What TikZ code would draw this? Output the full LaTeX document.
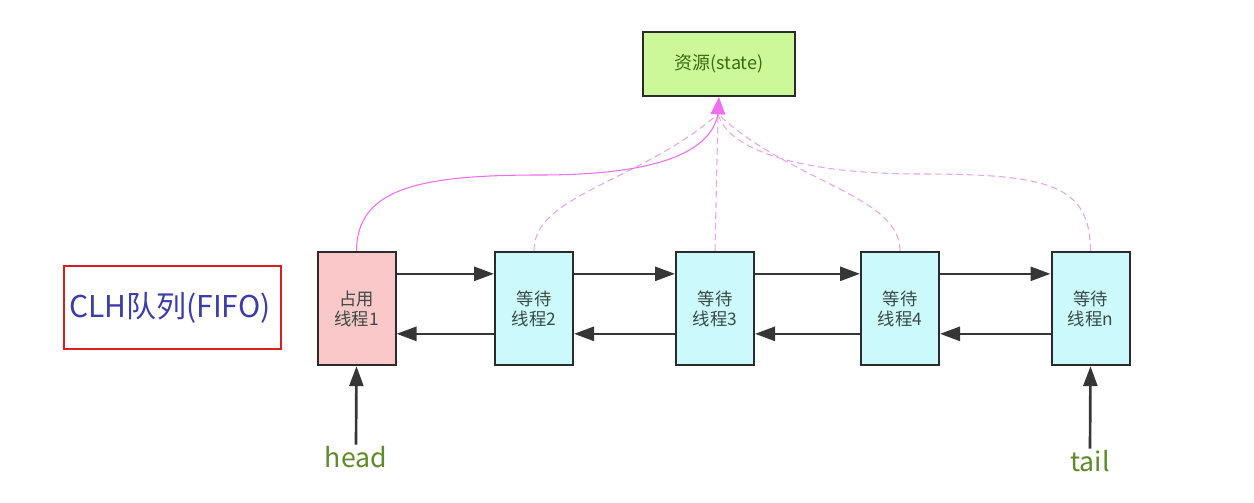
\documentclass[tikz,border=0pt]{standalone}
\usepackage{xcolor}
\usepackage{fontspec}
\setmainfont{Noto Sans CJK SC}
\usepackage{tikz}
\usetikzlibrary{shapes,arrows.meta}

\definecolor{boxedge}{HTML}{2B2B2B}
\definecolor{busyfill}{HTML}{FAC8C8}
\definecolor{waitfill}{HTML}{CCFAFC}
\definecolor{statefill}{HTML}{CCF899}
\definecolor{statetext}{HTML}{3A6B10}
\definecolor{threadtext}{HTML}{3A4A44}
\definecolor{linkpink}{HTML}{EE6EEE}
\definecolor{dashpink}{HTML}{E6A6E6}
\definecolor{ptrgreen}{HTML}{5E8A2A}
\definecolor{clhred}{HTML}{D81E1E}
\definecolor{clhblue}{HTML}{3C3CA8}

\tikzset{
  thread/.style={draw=boxedge,line width=1.5pt,minimum width=58.5pt,minimum height=85pt,
    align=center,text=threadtext,font=\fontsize{13}{15}\selectfont,inner sep=0pt},
  link/.style={draw=boxedge!95,line width=2pt,-{Triangle[length=15pt,width=10.5pt]}},
  grab/.style={linkpink,line width=0.8pt},
  waiting/.style={dashpink,line width=0.8pt,dash pattern=on 5pt off 3pt}
}

\begin{document}
\begin{tikzpicture}[x=0.75pt,y=0.75pt,yscale=-1,xscale=1]
    \useasboundingbox (0,0) rectangle (1254,503);

    \node [draw=boxedge,line width=1.5pt,fill=statefill,minimum width=114pt,minimum height=48pt,
      text=statetext,font=\fontsize{13.5}{15}\selectfont] (state) at (719,64) {资源(state)};
    \coordinate (tip) at (718,114);

    \node [draw=clhred,line width=1.5pt,minimum width=162.75pt,minimum height=62.25pt,
      text width=155pt,align=left,text=clhblue,font=\fontsize{22.5}{25}\selectfont,inner sep=0pt]
      (clh) at (172.5,307.5) {CLH队列(FIFO)};

    \node [thread,fill=busyfill] (t1) at (356.5,308.5) {占用\\线程1};
    \node [thread,fill=waitfill] (t2) at (534,308.5) {等待\\线程2};
    \node [thread,fill=waitfill] (t3) at (715,308.5) {等待\\线程3};
    \node [thread,fill=waitfill] (t4) at (900,308.5) {等待\\线程4};
    \node [thread,fill=waitfill] (tn) at (1090.5,308.5) {等待\\线程n};

    \draw [link] ([yshift=-26pt]t1.east) -- ([yshift=-26pt]t2.west);
    \draw [link] ([yshift=-26pt]t2.east) -- ([yshift=-26pt]t3.west);
    \draw [link] ([yshift=-26pt]t3.east) -- ([yshift=-26pt]t4.west);
    \draw [link] ([yshift=-26pt]t4.east) -- ([yshift=-26pt]tn.west);
    \draw [link] ([yshift=19pt]t2.west) -- ([yshift=19pt]t1.east);
    \draw [link] ([yshift=19pt]t3.west) -- ([yshift=19pt]t2.east);
    \draw [link] ([yshift=19pt]t4.west) -- ([yshift=19pt]t3.east);
    \draw [link] ([yshift=19pt]tn.west) -- ([yshift=19pt]t4.east);

    \draw [waiting] (t2.north) .. controls (533,195) and (640,182) .. (tip);
    \draw [waiting] (t3.north) -- (tip);
    \draw [waiting] (t4.north) .. controls (900,195) and (790,182) .. (tip);
    \draw [waiting] (tn.north) .. controls (1090,185) and (1050,174) .. (920,174)
      .. controls (800,174) and (728,150) .. (tip);
    \draw [grab] (t1.north) .. controls (357,188) and (420,175) .. (540,175)
      .. controls (650,175) and (710,155) .. (tip);
    \draw [linkpink,line width=0.8pt,-{Triangle[length=13pt,width=11pt]}] (tip) -- (state.south);

    \node [text=ptrgreen,font=\fontsize{20}{22}\selectfont,inner sep=1pt] (head) at (356,457) {head};
    \node [text=ptrgreen,font=\fontsize{20}{22}\selectfont,inner sep=1pt] (tail) at (1090,461) {tail};
    \draw [link] (head.north) -- (t1.south);
    \draw [link] (tail.north) -- (tn.south);
\end{tikzpicture}
\end{document}
